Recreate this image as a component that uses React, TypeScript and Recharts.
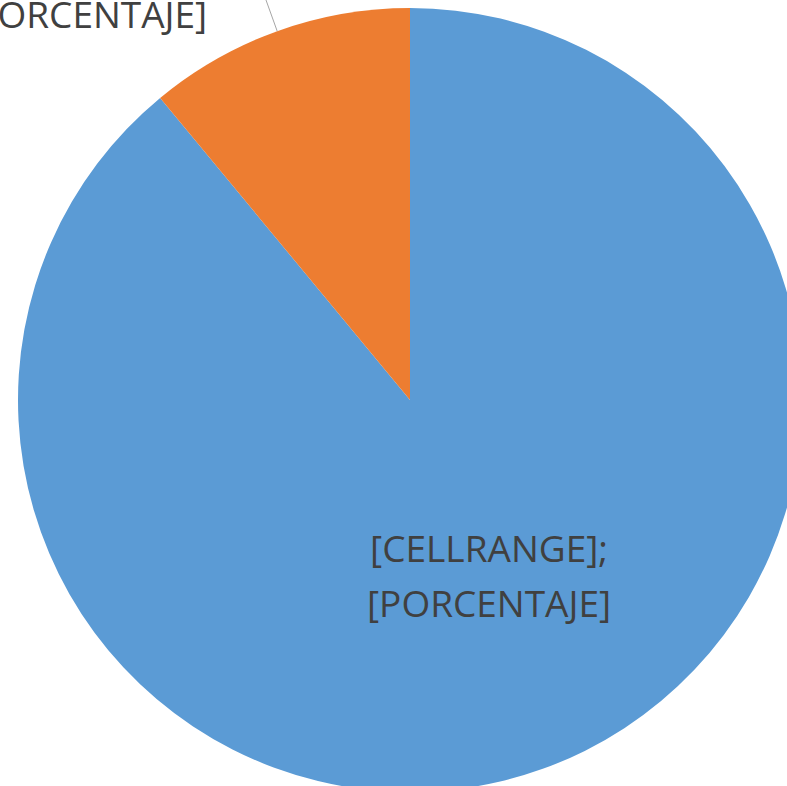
import { PieChart, Pie, Cell } from "recharts";

const categories = ["Categoría 1", "Categoría 2"];
const values = [89, 11];
const colors = ["#5B9BD5", "#ED7D31"];
const labelLines = ["[CELLRANGE];", "[PORCENTAJE]"];

const data = categories.map((name, i) => ({ name, value: values[i] }));

const RAD = Math.PI / 180;
const FONT = "'Open Sans', sans-serif";

function renderLabel(props: any) {
  const { cx, cy, midAngle, outerRadius, index } = props;
  const cos = Math.cos(-midAngle * RAD);
  const sin = Math.sin(-midAngle * RAD);

  if (index === 0) {
    // inside label, roughly half way out
    const r = outerRadius * 0.49;
    const x = cx + r * cos + 14;
    const y = cy + r * sin - 6;
    return (
      <text x={x} y={y} textAnchor="middle" fill="#404040" fontSize={37} fontFamily={FONT}>
        <tspan x={x} dy={-13}>{labelLines[0]}</tspan>
        <tspan x={x} dy={55}>{labelLines[1]}</tspan>
      </text>
    );
  }

  // outside label with leader line
  const sx = cx + outerRadius * cos;
  const sy = cy + outerRadius * sin;
  const ex = cx + (outerRadius + 45) * cos;
  const ey = cy + (outerRadius + 45) * sin;
  const tx = sx - 70;
  return (
    <g>
      <path d={`M${sx},${sy}L${ex},${ey}`} stroke="#A6A6A6" strokeWidth={1} fill="none" />
      <text x={tx} y={sy - 3} textAnchor="end" fill="#404040" fontSize={37} fontFamily={FONT}>
        <tspan x={tx} dy={-55}>{labelLines[0]}</tspan>
        <tspan x={tx} dy={55}>{labelLines[1]}</tspan>
      </text>
    </g>
  );
}

export default function App() {
  return (
    <div style={{ position: "absolute", left: 0, top: 0, width: 787, height: 786, background: "#fff" }}>
      <PieChart width={787} height={786} margin={{ top: 0, right: 0, bottom: 0, left: 0 }}>
        <Pie
          data={data}
          dataKey="value"
          nameKey="name"
          cx={410}
          cy={400}
          outerRadius={392}
          startAngle={90}
          endAngle={-270}
          stroke="none"
          label={renderLabel}
          labelLine={false}
          isAnimationActive={false}
        >
          {data.map((d, i) => (
            <Cell key={d.name} fill={colors[i]} />
          ))}
        </Pie>
      </PieChart>
    </div>
  );
}
